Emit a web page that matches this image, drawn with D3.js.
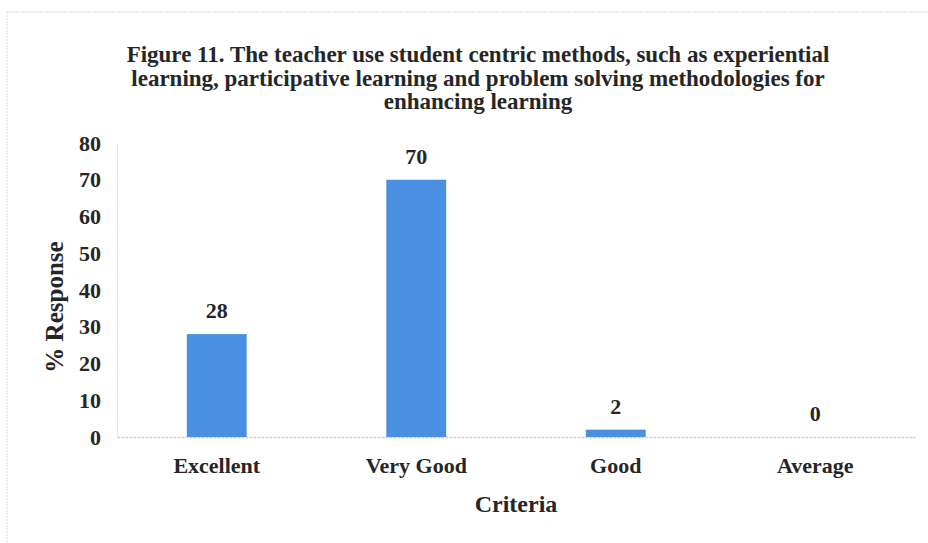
<!DOCTYPE html>
<html>
<head>
<meta charset="utf-8">
<script src="https://cdn.jsdelivr.net/npm/d3@7"></script>
<style>
  html, body { margin: 0; padding: 0; background: #fff; }
  svg text { font-family: "Liberation Serif", "Times New Roman", serif; font-weight: bold; fill: #262626; }
</style>
</head>
<body>
<div id="chart"></div>
<script>
const categories = ["Excellent", "Very Good", "Good", "Average"];
const responses = [28, 70, 2, 0];
const yTicks = [0, 10, 20, 30, 40, 50, 60, 70, 80];
const titleLines = [
  "Figure 11. The teacher use student centric methods, such as experiential",
  "learning, participative learning and problem solving methodologies for",
  "enhancing learning"
];

const render = () => {
  const width = 928;
  const height = 543;
  const margin = { left: 117, right: 13, top: 143, bottom: 106 };
  const innerW = width - margin.left - margin.right;
  const innerH = height - margin.top - margin.bottom;

  const svg = d3.select("#chart")
    .append("svg")
    .attr("width", width)
    .attr("height", height);

  // faint scan frame
  svg.append("line")
    .attr("x1", 7).attr("x2", 928).attr("y1", 12).attr("y2", 12)
    .attr("stroke", "#d8d8de").attr("stroke-dasharray", "2,1");
  svg.append("line")
    .attr("x1", 7).attr("x2", 7).attr("y1", 12).attr("y2", 543)
    .attr("stroke", "#dcdce2").attr("stroke-dasharray", "2,1");

  // title
  svg.append("g")
    .selectAll("text")
    .data(titleLines)
    .enter()
    .append("text")
    .attr("x", 478)
    .attr("y", (d, i) => 62 + i * 23.5)
    .attr("text-anchor", "middle")
    .style("font-size", "23px")
    .text(d => d);

  const xScale = d3.scaleBand()
    .domain(categories)
    .range([0, innerW])
    .paddingInner(0.7)
    .paddingOuter(0.35);

  const yScale = d3.scaleLinear()
    .domain([0, 80])
    .range([innerH, 0]);

  const g = svg.append("g")
    .attr("transform", `translate(${margin.left},${margin.top})`);

  // y axis
  const yAxis = d3.axisLeft(yScale)
    .tickValues(yTicks)
    .tickSize(0)
    .tickPadding(16);
  const yG = g.append("g").call(yAxis);
  yG.select(".domain").attr("stroke", "#dadada").attr("stroke-dasharray", "2,1");
  yG.selectAll("text").style("font-size", "22px").attr("fill", "#262626");

  // x axis
  const xAxis = d3.axisBottom(xScale)
    .tickSize(0)
    .tickPadding(20);
  const xG = g.append("g")
    .attr("transform", `translate(0,${innerH})`)
    .call(xAxis);
  xG.select(".domain").attr("stroke", "#cfcfd6").attr("stroke-width", 1.5).attr("stroke-dasharray", "3,1");
  xG.selectAll("text").style("font-size", "22px").attr("fill", "#262626");

  // bars
  g.append("g")
    .selectAll("rect")
    .data(responses)
    .enter()
    .append("rect")
    .attr("x", (d, i) => xScale(categories[i]))
    .attr("y", d => yScale(d))
    .attr("width", xScale.bandwidth())
    .attr("height", d => innerH - yScale(d))
    .attr("fill", "#4a90e2");

  // value labels
  g.append("g")
    .selectAll("text")
    .data(responses)
    .enter()
    .append("text")
    .attr("x", (d, i) => xScale(categories[i]) + xScale.bandwidth() / 2)
    .attr("y", d => yScale(d) - 16)
    .attr("text-anchor", "middle")
    .style("font-size", "22px")
    .text(d => d);

  // axis titles
  svg.append("text")
    .attr("x", margin.left + innerW / 2)
    .attr("y", 512)
    .attr("text-anchor", "middle")
    .style("font-size", "24px")
    .text("Criteria");

  svg.append("text")
    .attr("transform", `translate(63,${margin.top + innerH / 2 + 17}) rotate(-90)`)
    .attr("text-anchor", "middle")
    .style("font-size", "25px")
    .text("% Response");
};

document.addEventListener("DOMContentLoaded", render);
</script>
</body>
</html>
